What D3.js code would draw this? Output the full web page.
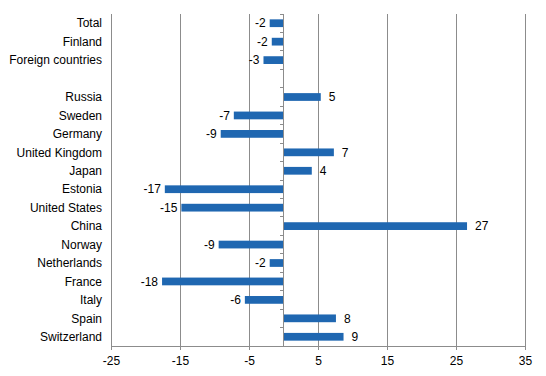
<!DOCTYPE html>
<html>
<head>
<meta charset="utf-8">
<script src="https://cdn.jsdelivr.net/npm/d3@7"></script>
<style>
  body { margin: 0; background: #fff; }
  text { font-family: "Liberation Sans", Arial, sans-serif; font-size: 12px; fill: #000; }
</style>
</head>
<body>
<div id="chart"></div>
<script>
// categories top to bottom, "" is the empty gap row
const categories = ['Total', 'Finland', 'Foreign countries', '', 'Russia', 'Sweden', 'Germany',
    'United Kingdom', 'Japan', 'Estonia', 'United States', 'China', 'Norway', 'Netherlands',
    'France', 'Italy', 'Spain', 'Switzerland'];
const values = [-2.0, -1.7, -2.9, null, 5.4, -7.2, -9.1, 7.3, 4.1, -17.2, -14.8, 26.6, -9.4,
    -2.0, -17.6, -5.6, 7.6, 8.7];
const xTicks = [-25, -15, -5, 5, 15, 25, 35];

const width = 546, height = 376;
const margin = { top: 14, right: 21, bottom: 30, left: 111 };
const chartWidth = width - margin.left - margin.right;
const chartHeight = height - margin.top - margin.bottom;

const rows = categories.map((c, i) => ({ key: i, name: c, value: values[i] }));

const svg = d3.select('#chart').append('svg')
    .attr('width', width)
    .attr('height', height);

const chart = svg.append('g')
    .attr('transform', `translate(${margin.left},${margin.top})`);

const x = d3.scaleLinear().domain([-25, 35]).range([0, chartWidth]);
const y = d3.scaleBand().domain(rows.map(d => d.key)).range([0, chartHeight]).paddingInner(0.58).paddingOuter(0.29);

// vertical gridlines
chart.selectAll('.grid')
    .data(xTicks)
    .join('line')
    .attr('x1', d => x(d)).attr('x2', d => x(d))
    .attr('y1', 0).attr('y2', chartHeight)
    .attr('stroke', '#8c8c8c')
    .attr('stroke-width', 1)
    .attr('shape-rendering', 'crispEdges');

// bottom axis (plain hyphen for negatives, like the original)
const xAxis = chart.append('g')
    .attr('transform', `translate(0,${chartHeight})`)
    .call(d3.axisBottom(x).tickValues(xTicks).tickFormat(d => String(d)).tickSize(4).tickPadding(6));
xAxis.select('.domain').attr('stroke', '#8c8c8c');
xAxis.selectAll('.tick line').attr('stroke', '#8c8c8c');
xAxis.selectAll('text').style('font-size', '12px').attr('fill', '#000');

// bars
chart.selectAll('.bar')
    .data(rows.filter(d => d.value !== null))
    .join('rect')
    .attr('x', d => x(Math.min(0, d.value)))
    .attr('y', d => y(d.key))
    .attr('width', d => Math.abs(x(d.value) - x(0)))
    .attr('height', y.bandwidth())
    .attr('fill', '#1f67b1');

// zero axis with band ticks
const step = y.step();
chart.append('line')
    .attr('x1', x(0)).attr('x2', x(0))
    .attr('y1', 0).attr('y2', chartHeight)
    .attr('stroke', '#8c8c8c')
    .attr('shape-rendering', 'crispEdges');
chart.selectAll('.ytick')
    .data(d3.range(categories.length + 1))
    .join('line')
    .attr('x1', x(0) - 4).attr('x2', x(0))
    .attr('y1', i => i * step).attr('y2', i => i * step)
    .attr('stroke', '#8c8c8c')
    .attr('shape-rendering', 'crispEdges');

// category labels
chart.selectAll('.cat')
    .data(rows)
    .join('text')
    .attr('x', -9)
    .attr('y', d => y(d.key) + y.bandwidth() / 2)
    .attr('dy', '0.35em')
    .style('text-anchor', 'end')
    .text(d => d.name);

// value labels
chart.selectAll('.val')
    .data(rows.filter(d => d.value !== null))
    .join('text')
    .attr('x', d => d.value < 0 ? x(d.value) - 4 : x(d.value) + 8)
    .attr('y', d => y(d.key) + y.bandwidth() / 2)
    .attr('dy', '0.35em')
    .style('text-anchor', d => d.value < 0 ? 'end' : 'start')
    .text(d => Math.round(d.value));
</script>
</body>
</html>
